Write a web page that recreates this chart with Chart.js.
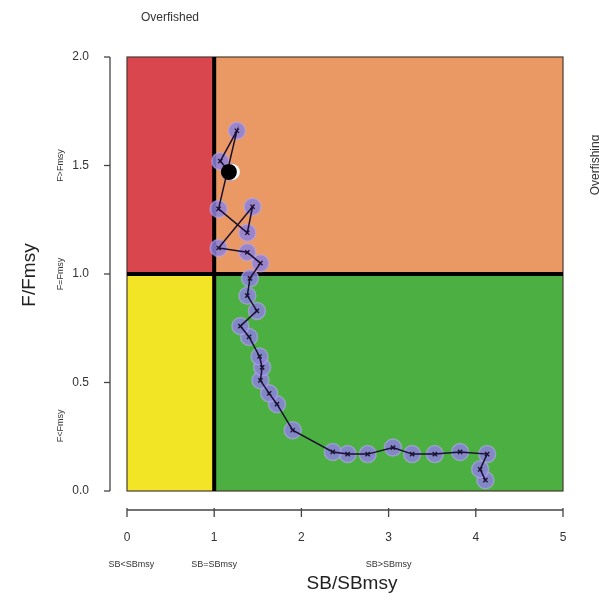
<!DOCTYPE html>
<html><head><meta charset="utf-8">
<script src="https://cdn.jsdelivr.net/npm/chart.js@4/dist/chart.umd.min.js"></script>
<style>html,body{margin:0;padding:0;background:#fff}#wrap{width:599px;height:601px}</style>
</head><body><div id="wrap"><canvas id="c" width="599" height="601"></canvas></div>
<script>
// Trajectory of SB/SBmsy vs F/Fmsy (chronological, last point = current year)
const sbRatio = [4.11,4.05,4.13,3.82,3.53,3.27,3.05,2.76,2.53,2.36,1.90,1.72,1.63,1.53,1.55,1.52,1.40,1.30,1.49,1.38,1.41,1.53,1.38,1.05,1.44,1.38,1.05,1.26,1.07,1.18];
const fRatio  = [0.05,0.10,0.17,0.18,0.17,0.17,0.20,0.17,0.17,0.18,0.28,0.40,0.45,0.51,0.57,0.62,0.71,0.76,0.83,0.90,0.98,1.05,1.10,1.12,1.31,1.19,1.30,1.66,1.52,1.47];
const xTicks = [0,1,2,3,4,5];
const yTicks = [0.0,0.5,1.0,1.5,2.0];
const xZoneLabels = [{v:0.05,t:'SB<SBmsy'},{v:1.0,t:'SB=SBmsy'},{v:3.0,t:'SB>SBmsy'}];
const yZoneLabels = [{v:1.5,t:'F>Fmsy'},{v:1.0,t:'F=Fmsy'},{v:0.3,t:'F<Fmsy'}];

const pts = sbRatio.map((x,i)=>({x:x,y:fRatio[i]}));
const last = [pts[pts.length-1]];

const kobe = {
  id:'kobe',
  beforeDatasetsDraw(ch){
    const {ctx, scales:{x,y}} = ch;
    const x0=x.getPixelForValue(0), x1=x.getPixelForValue(1), x5=x.getPixelForValue(5);
    const y0=y.getPixelForValue(0), y1=y.getPixelForValue(1), y2=y.getPixelForValue(2);
    ctx.save();
    ctx.fillStyle='#d9464d'; ctx.fillRect(x0,y2,x1-x0,y1-y2);
    ctx.fillStyle='#eb9964'; ctx.fillRect(x1,y2,x5-x1,y1-y2);
    ctx.fillStyle='#f2e526'; ctx.fillRect(x0,y1,x1-x0,y0-y1);
    ctx.fillStyle='#4caf42'; ctx.fillRect(x1,y1,x5-x1,y0-y1);
    ctx.strokeStyle='#4a3a30'; ctx.lineWidth=1.2; ctx.strokeRect(x0,y2,x5-x0,y0-y2);
    ctx.strokeStyle='#000'; ctx.lineWidth=4;
    ctx.beginPath(); ctx.moveTo(x1,y2); ctx.lineTo(x1,y0); ctx.stroke();
    ctx.beginPath(); ctx.moveTo(x0,y1); ctx.lineTo(x5,y1); ctx.stroke();
    // detached axes
    ctx.strokeStyle='#444'; ctx.lineWidth=1.3;
    const ax = x0-17, ay = y0+19;
    ctx.beginPath(); ctx.moveTo(ax,y.getPixelForValue(yTicks[0])); ctx.lineTo(ax,y.getPixelForValue(yTicks[yTicks.length-1])); ctx.stroke();
    yTicks.forEach(v=>{const p=y.getPixelForValue(v);ctx.beginPath();ctx.moveTo(ax,p);ctx.lineTo(ax-6,p);ctx.stroke();});
    ctx.beginPath(); ctx.moveTo(x.getPixelForValue(xTicks[0]),ay); ctx.lineTo(x.getPixelForValue(xTicks[xTicks.length-1]),ay); ctx.stroke();
    xTicks.forEach(v=>{const p=x.getPixelForValue(v);ctx.beginPath();ctx.moveTo(p,ay-2);ctx.lineTo(p,ay+7);ctx.stroke();});
    // texts
    ctx.fillStyle='#333'; ctx.textBaseline='middle'; ctx.textAlign='center';
    ctx.font='9px "Liberation Sans", Arial, sans-serif';
    xZoneLabels.forEach(o=>ctx.fillText(o.t, x.getPixelForValue(o.v), 565));
    yZoneLabels.forEach(o=>{ctx.save();ctx.translate(61,y.getPixelForValue(o.v));ctx.rotate(-Math.PI/2);ctx.fillText(o.t,0,0);ctx.restore();});
    ctx.font='12px "Liberation Sans", Arial, sans-serif';
    ctx.fillText('Overfished',170,18);
    ctx.save();ctx.translate(596,165);ctx.rotate(-Math.PI/2);ctx.fillText('Overfishing',0,0);ctx.restore();
    ctx.fillStyle='#222'; ctx.font='19px "Liberation Sans", Arial, sans-serif';
    ctx.fillText('SB/SBmsy',352,584);
    ctx.save();ctx.translate(30,275);ctx.rotate(-Math.PI/2);ctx.fillText('F/Fmsy',0,0);ctx.restore();
    ctx.restore();
  },
  afterDatasetsDraw(ch){
    const meta = ch.getDatasetMeta(2);
    const el = meta.data[0]; if(!el) return;
    const ctx=ch.ctx; ctx.save();
    ctx.fillStyle='#fff'; ctx.beginPath(); ctx.arc(el.x+2,el.y,8,0,Math.PI*2); ctx.fill();
    ctx.fillStyle='#000'; ctx.beginPath(); ctx.arc(el.x-1,el.y,8,0,Math.PI*2); ctx.fill();
    ctx.restore();
  }
};

new Chart(document.getElementById('c'),{
  type:'scatter',
  data:{datasets:[
    {data:pts, showLine:false, pointRadius:8.5, pointBackgroundColor:'rgba(140,128,220,0.85)', pointBorderColor:'rgba(180,170,235,0.6)', pointBorderWidth:1.5, order:3},
    {data:pts, showLine:true, borderColor:'#1a1030', borderWidth:1.5, pointStyle:'crossRot', pointRadius:3, pointBorderColor:'#1a1030', pointBorderWidth:1.3, order:2},
    {data:last, showLine:false, pointRadius:0, order:1}
  ]},
  options:{
    responsive:false, animation:false, devicePixelRatio:1,
    layout:{padding:{left:0,right:36,top:57,bottom:0}},
    plugins:{legend:{display:false},tooltip:{enabled:false}},
    scales:{
      x:{type:'linear',min:0,max:5,
        afterFit(s){s.height=110; s.paddingRight=0; s.paddingLeft=0;},
        afterBuildTicks(s){s.ticks=xTicks.map(v=>({value:v}));},
        grid:{display:false}, border:{display:false},
        ticks:{padding:31, color:'#333', font:{size:12,family:'"Liberation Sans", Arial, sans-serif'}, maxRotation:0, callback:v=>String(v)}},
      y:{type:'linear',min:0,max:2,
        afterFit(s){s.width=127;},
        afterBuildTicks(s){s.ticks=yTicks.map(v=>({value:v}));},
        grid:{display:false}, border:{display:false},
        ticks:{padding:30, color:'#333', font:{size:12,family:'"Liberation Sans", Arial, sans-serif'}, callback:v=>v.toFixed(1)}}
    }
  },
  plugins:[kobe]
});
</script></body></html>
